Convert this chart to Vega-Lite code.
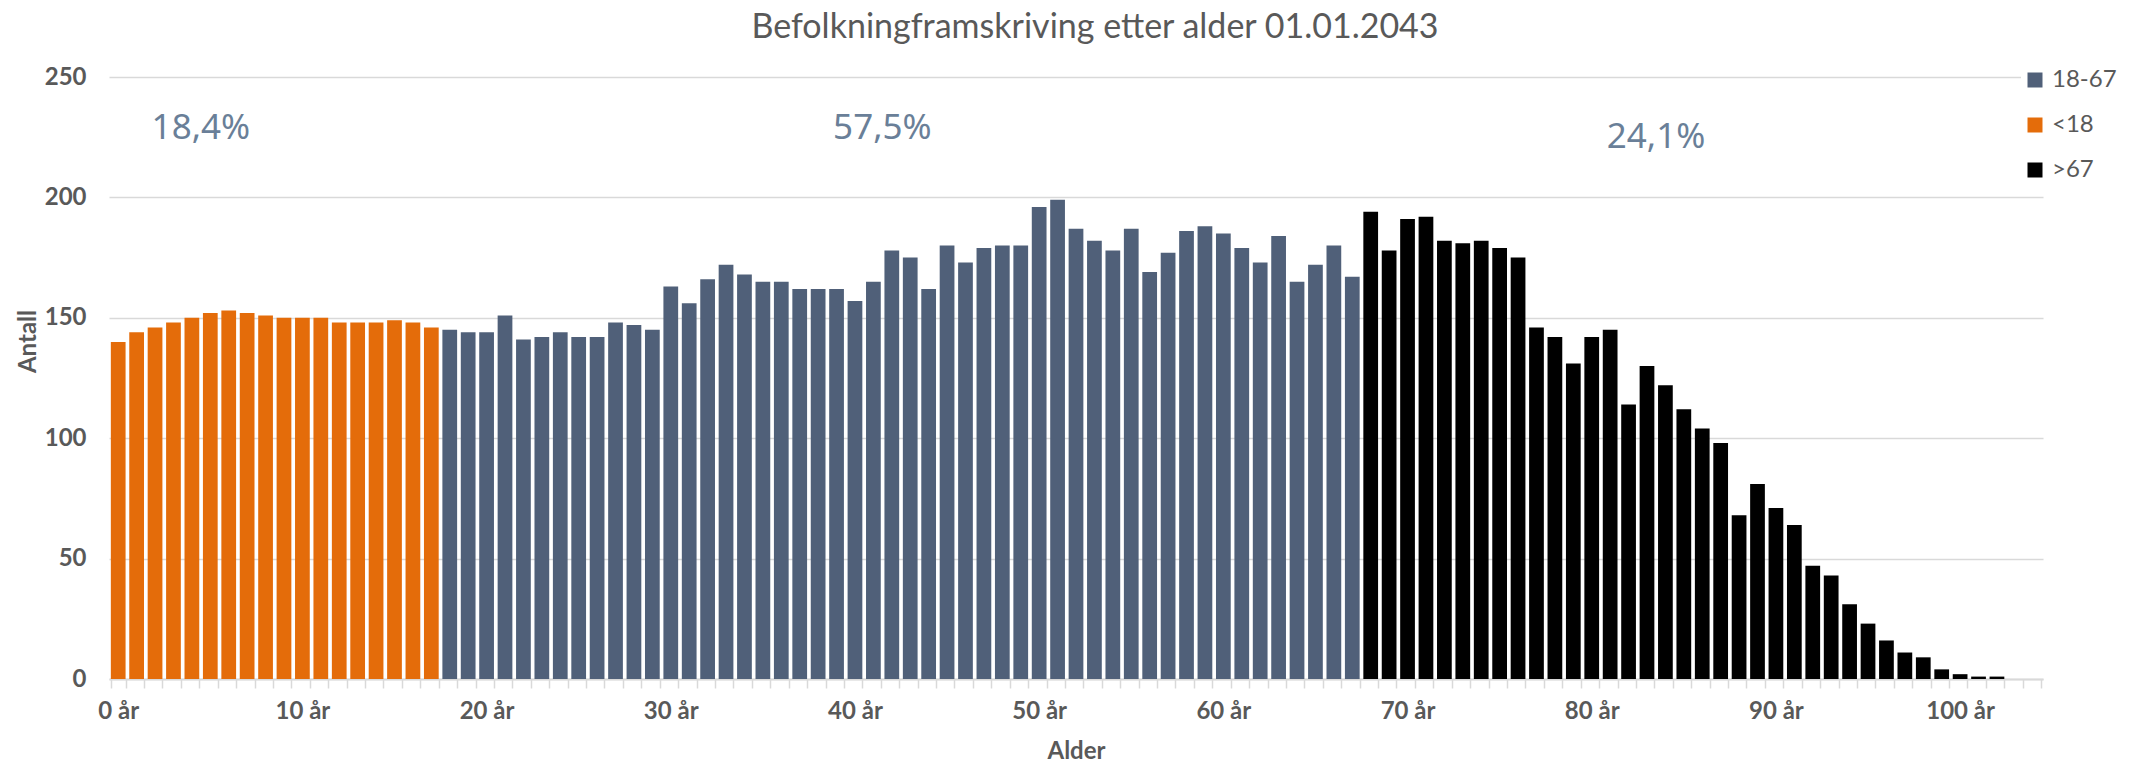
{
  "$schema": "https://vega.github.io/schema/vega-lite/v6.json",
  "width": 1934,
  "height": 602,
  "autosize": {"type": "none"},
  "padding": {"left": 109, "top": 77, "right": 98, "bottom": 90},
  "background": "white",
  "title": {
    "text": "Befolkningframskriving etter alder 01.01.2043",
    "font": "Lato",
    "fontSize": 34,
    "fontWeight": "normal",
    "color": "#595959",
    "anchor": "middle",
    "offset": 20,
    "dx": 19
  },
  "config": {
    "view": {"stroke": null},
    "font": "Lato"
  },
  "datasets": {
    "pop": [
      {"age": 0, "n": 140, "g": "<18"},
      {"age": 1, "n": 144, "g": "<18"},
      {"age": 2, "n": 146, "g": "<18"},
      {"age": 3, "n": 148, "g": "<18"},
      {"age": 4, "n": 150, "g": "<18"},
      {"age": 5, "n": 152, "g": "<18"},
      {"age": 6, "n": 153, "g": "<18"},
      {"age": 7, "n": 152, "g": "<18"},
      {"age": 8, "n": 151, "g": "<18"},
      {"age": 9, "n": 150, "g": "<18"},
      {"age": 10, "n": 150, "g": "<18"},
      {"age": 11, "n": 150, "g": "<18"},
      {"age": 12, "n": 148, "g": "<18"},
      {"age": 13, "n": 148, "g": "<18"},
      {"age": 14, "n": 148, "g": "<18"},
      {"age": 15, "n": 149, "g": "<18"},
      {"age": 16, "n": 148, "g": "<18"},
      {"age": 17, "n": 146, "g": "<18"},
      {"age": 18, "n": 145, "g": "18-67"},
      {"age": 19, "n": 144, "g": "18-67"},
      {"age": 20, "n": 144, "g": "18-67"},
      {"age": 21, "n": 151, "g": "18-67"},
      {"age": 22, "n": 141, "g": "18-67"},
      {"age": 23, "n": 142, "g": "18-67"},
      {"age": 24, "n": 144, "g": "18-67"},
      {"age": 25, "n": 142, "g": "18-67"},
      {"age": 26, "n": 142, "g": "18-67"},
      {"age": 27, "n": 148, "g": "18-67"},
      {"age": 28, "n": 147, "g": "18-67"},
      {"age": 29, "n": 145, "g": "18-67"},
      {"age": 30, "n": 163, "g": "18-67"},
      {"age": 31, "n": 156, "g": "18-67"},
      {"age": 32, "n": 166, "g": "18-67"},
      {"age": 33, "n": 172, "g": "18-67"},
      {"age": 34, "n": 168, "g": "18-67"},
      {"age": 35, "n": 165, "g": "18-67"},
      {"age": 36, "n": 165, "g": "18-67"},
      {"age": 37, "n": 162, "g": "18-67"},
      {"age": 38, "n": 162, "g": "18-67"},
      {"age": 39, "n": 162, "g": "18-67"},
      {"age": 40, "n": 157, "g": "18-67"},
      {"age": 41, "n": 165, "g": "18-67"},
      {"age": 42, "n": 178, "g": "18-67"},
      {"age": 43, "n": 175, "g": "18-67"},
      {"age": 44, "n": 162, "g": "18-67"},
      {"age": 45, "n": 180, "g": "18-67"},
      {"age": 46, "n": 173, "g": "18-67"},
      {"age": 47, "n": 179, "g": "18-67"},
      {"age": 48, "n": 180, "g": "18-67"},
      {"age": 49, "n": 180, "g": "18-67"},
      {"age": 50, "n": 196, "g": "18-67"},
      {"age": 51, "n": 199, "g": "18-67"},
      {"age": 52, "n": 187, "g": "18-67"},
      {"age": 53, "n": 182, "g": "18-67"},
      {"age": 54, "n": 178, "g": "18-67"},
      {"age": 55, "n": 187, "g": "18-67"},
      {"age": 56, "n": 169, "g": "18-67"},
      {"age": 57, "n": 177, "g": "18-67"},
      {"age": 58, "n": 186, "g": "18-67"},
      {"age": 59, "n": 188, "g": "18-67"},
      {"age": 60, "n": 185, "g": "18-67"},
      {"age": 61, "n": 179, "g": "18-67"},
      {"age": 62, "n": 173, "g": "18-67"},
      {"age": 63, "n": 184, "g": "18-67"},
      {"age": 64, "n": 165, "g": "18-67"},
      {"age": 65, "n": 172, "g": "18-67"},
      {"age": 66, "n": 180, "g": "18-67"},
      {"age": 67, "n": 167, "g": "18-67"},
      {"age": 68, "n": 194, "g": ">67"},
      {"age": 69, "n": 178, "g": ">67"},
      {"age": 70, "n": 191, "g": ">67"},
      {"age": 71, "n": 192, "g": ">67"},
      {"age": 72, "n": 182, "g": ">67"},
      {"age": 73, "n": 181, "g": ">67"},
      {"age": 74, "n": 182, "g": ">67"},
      {"age": 75, "n": 179, "g": ">67"},
      {"age": 76, "n": 175, "g": ">67"},
      {"age": 77, "n": 146, "g": ">67"},
      {"age": 78, "n": 142, "g": ">67"},
      {"age": 79, "n": 131, "g": ">67"},
      {"age": 80, "n": 142, "g": ">67"},
      {"age": 81, "n": 145, "g": ">67"},
      {"age": 82, "n": 114, "g": ">67"},
      {"age": 83, "n": 130, "g": ">67"},
      {"age": 84, "n": 122, "g": ">67"},
      {"age": 85, "n": 112, "g": ">67"},
      {"age": 86, "n": 104, "g": ">67"},
      {"age": 87, "n": 98, "g": ">67"},
      {"age": 88, "n": 68, "g": ">67"},
      {"age": 89, "n": 81, "g": ">67"},
      {"age": 90, "n": 71, "g": ">67"},
      {"age": 91, "n": 64, "g": ">67"},
      {"age": 92, "n": 47, "g": ">67"},
      {"age": 93, "n": 43, "g": ">67"},
      {"age": 94, "n": 31, "g": ">67"},
      {"age": 95, "n": 23, "g": ">67"},
      {"age": 96, "n": 16, "g": ">67"},
      {"age": 97, "n": 11, "g": ">67"},
      {"age": 98, "n": 9, "g": ">67"},
      {"age": 99, "n": 4, "g": ">67"},
      {"age": 100, "n": 2, "g": ">67"},
      {"age": 101, "n": 1, "g": ">67"},
      {"age": 102, "n": 1, "g": ">67"},
      {"age": 103, "n": 0, "g": ">67"},
      {"age": 104, "n": 0, "g": ">67"}
    ],
    "notes": [
      {"label": "18,4%", "age": 4, "n": 229},
      {"label": "57,5%", "age": 41, "n": 229},
      {"label": "24,1%", "age": 83, "n": 225}
    ]
  },
  "layer": [
    {
      "data": {"name": "pop"},
      "mark": {"type": "bar"},
      "encoding": {
        "x": {
          "field": "age",
          "type": "ordinal",
          "scale": {"paddingInner": 0.2, "paddingOuter": 0.1},
          "axis": {
            "title": "Alder",
            "titleFont": "Lato",
            "titleFontSize": 24,
            "titleFontWeight": "bold",
            "titleColor": "#595959",
            "titlePadding": 16,
            "labelExpr": "datum.value % 10 === 0 ? datum.value + ' år' : ''",
            "labelAngle": 0,
            "labelOverlap": false,
            "labelFont": "Lato",
            "labelFontSize": 24,
            "labelFontWeight": "bold",
            "labelColor": "#595959",
            "labelPadding": 11,
            "tickBand": "extent",
            "tickColor": "#D9D9D9",
            "tickSize": 9,
            "tickWidth": 1.5,
            "domainColor": "#D9D9D9",
            "domainWidth": 2,
            "grid": false
          }
        },
        "y": {
          "field": "n",
          "type": "quantitative",
          "scale": {"domain": [0, 250], "nice": false},
          "axis": {
            "title": "Antall",
            "titleFont": "Lato",
            "titleFontSize": 24,
            "titleFontWeight": "bold",
            "titleColor": "#595959",
            "titlePadding": 4,
            "titleY": 264,
            "values": [0, 50, 100, 150, 200, 250],
            "labelFont": "Lato",
            "labelFontSize": 24,
            "labelFontWeight": "bold",
            "labelColor": "#595959",
            "labelPadding": 23,
            "ticks": false,
            "domain": false,
            "gridColor": "#D9D9D9",
            "gridWidth": 1.5
          }
        },
        "color": {
          "field": "g",
          "type": "nominal",
          "scale": {"domain": ["18-67", "<18", ">67"], "range": ["#506079", "#E46C0A", "#000000"]},
          "legend": {
            "title": null,
            "orient": "none",
            "legendX": 1912,
            "legendY": -11,
            "padding": 2,
            "fillColor": "white",
            "symbolType": "square",
            "symbolSize": 225,
            "symbolStrokeWidth": 0,
            "labelFont": "Lato",
            "labelFontSize": 24,
            "labelColor": "#595959",
            "labelOffset": 5,
            "rowPadding": 21
          }
        }
      }
    },
    {
      "data": {"name": "notes"},
      "mark": {"type": "text", "font": "Noto Sans", "fontSize": 35, "color": "#6A7F98", "dx": 9, "baseline": "middle", "align": "center"},
      "encoding": {
        "x": {"field": "age", "type": "ordinal"},
        "y": {"field": "n", "type": "quantitative"},
        "text": {"field": "label"}
      }
    }
  ]
}
